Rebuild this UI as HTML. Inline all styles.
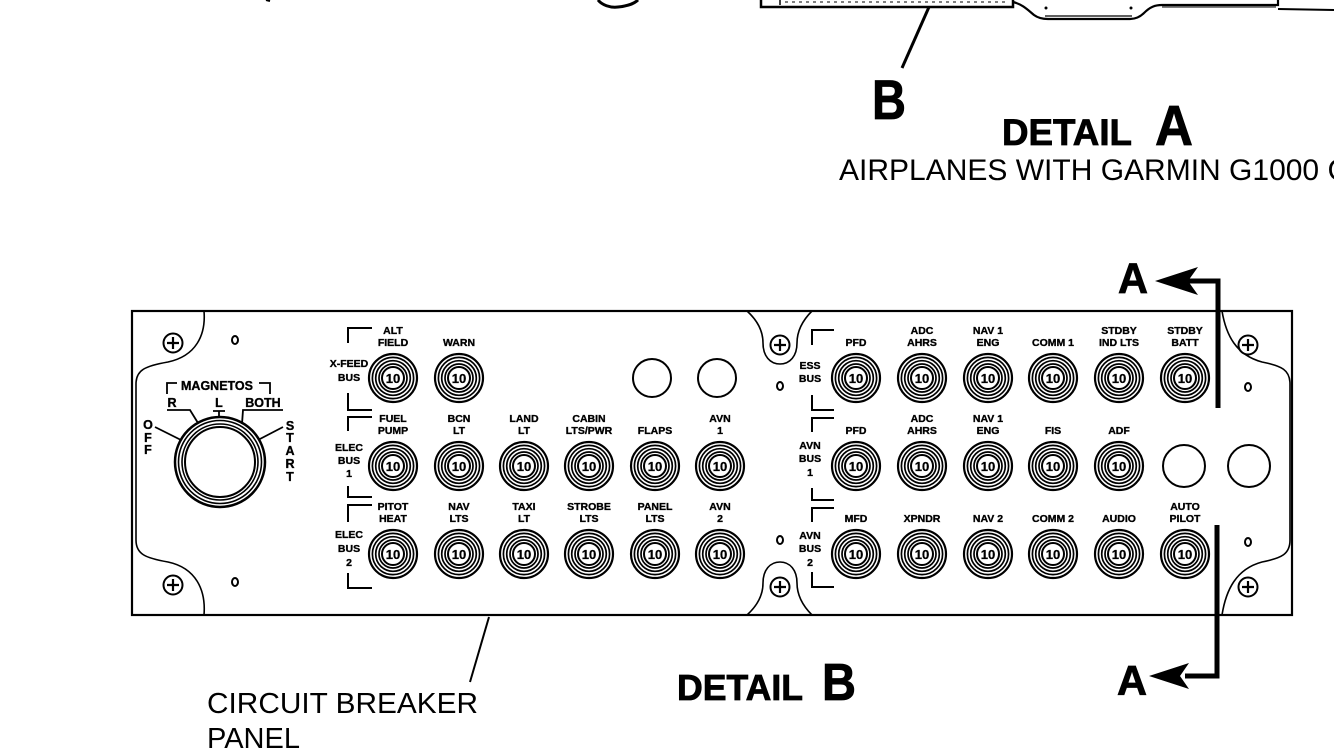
<!DOCTYPE html>
<html>
<head>
<meta charset="utf-8">
<style>
  html, body { margin: 0; padding: 0; background: #fff; }
  svg { display: block; }
  .lb { font-family: "Liberation Sans", Arial, sans-serif; font-weight: bold; font-size: 10.5px; fill: #000; stroke: #000; stroke-width: 0.35px; text-anchor: middle; }
  .ten { font-family: "Liberation Sans", Arial, sans-serif; font-weight: bold; font-size: 13px; fill: #000; stroke: #000; stroke-width: 0.3px; text-anchor: middle; }
  .mg { font-family: "Liberation Sans", Arial, sans-serif; font-weight: bold; font-size: 12.5px; fill: #000; stroke: #000; stroke-width: 0.35px; text-anchor: middle; }
  .big { font-family: "Liberation Sans", Arial, sans-serif; font-weight: bold; fill: #000; stroke: #000; stroke-width: 0.8px; }
  .reg { font-family: "Liberation Sans", Arial, sans-serif; fill: #000; }
</style>
</head>
<body>
<svg width="1334" height="750" viewBox="0 0 1334 750" xmlns="http://www.w3.org/2000/svg">
  <defs>
    <g id="brk" fill="none" stroke="#000">
      <circle r="24" stroke-width="2.2"/>
      <circle r="20.6" stroke-width="1.7"/>
      <circle r="17.3" stroke-width="1.7"/>
      <circle r="14" stroke-width="1.7"/>
      <circle r="11" stroke-width="2"/>
    </g>
    <g id="scr">
      <circle r="9.5" fill="#fff" stroke="#000" stroke-width="2"/>
      <path d="M-6,0H6M0,-6V6" stroke="#000" stroke-width="2.2"/>
    </g>
    <ellipse id="hole" rx="3" ry="4" fill="none" stroke="#000" stroke-width="2"/>
  </defs>
  <rect width="1334" height="750" fill="#fff"/>

  <!-- top fragments of upper drawing -->
  <g fill="none" stroke="#000">
    <path d="M761,0 V7 H1013 V0" stroke-width="2.5"/>
    <path d="M780,0 V5" stroke-width="1.5"/>
    <path d="M785,2 H1005" stroke-width="1" stroke-dasharray="3,4"/>
    <path d="M1013,2 C1022,4 1028,10 1034,15 C1038,18 1042,19 1048,19 L1130,19 C1136,19 1140,17 1144,13 C1150,7 1155,5 1162,5 L1278,5 L1278,0" stroke-width="2.2"/>
    <path d="M1045,16 H1132" stroke-width="1.2"/>
    <path d="M1162,7 H1276" stroke-width="1"/>
    <path d="M1278,9 L1334,10" stroke-width="2"/>
    <path d="M598,0 C602,5 610,8 618,7 C628,6 635,3 638,0" stroke-width="3"/>
    <path d="M266,0 L270,1" stroke-width="2"/>
    <!-- leader to B -->
    <path d="M929,7 L902,68" stroke-width="3"/>
  </g>
  <circle cx="1046" cy="8" r="1.5" fill="#000"/>
  <circle cx="1131" cy="8" r="1.5" fill="#000"/>

  <!-- top titles -->
  <text class="big" x="872" y="119" font-size="56" textLength="34" lengthAdjust="spacingAndGlyphs">B</text>
  <text class="big" x="1002" y="145" font-size="37" textLength="130" lengthAdjust="spacingAndGlyphs">DETAIL</text>
  <text class="big" x="1155" y="145" font-size="57" textLength="38" lengthAdjust="spacingAndGlyphs">A</text>
  <text class="reg" x="839" y="180" font-size="30">AIRPLANES WITH GARMIN G1000 C</text>

  <!-- panel outer -->
  <rect x="132" y="311" width="1160" height="304" fill="none" stroke="#000" stroke-width="2.2"/>
  <!-- plate outline notches -->
  <g fill="none" stroke="#000" stroke-width="1.6">
    <path d="M204,311 C206,335 196,356 168,362 C145,366 136,370 136,384 L136,540 C136,554 145,558 168,562 C196,568 206,590 204,615"/>
    <path d="M1222,311 C1226,335 1236,355 1262,362 C1282,366 1290,370 1290,384 L1290,540 C1290,554 1282,558 1262,562 C1236,569 1226,590 1222,615"/>
    <path d="M747,311 C757,320 763,330 763,343 C763,356 770,364 780,364 C790,364 797,356 797,343 C797,330 803,320 812,311"/>
    <path d="M747,615 C757,606 763,596 763,583 C763,570 770,562 780,562 C790,562 797,570 797,583 C797,596 803,606 812,615"/>
  </g>

  <!-- screws and holes -->
  <use href="#scr" x="173" y="343"/>
  <use href="#scr" x="173" y="585"/>
  <use href="#scr" x="780" y="345"/>
  <use href="#scr" x="780" y="587"/>
  <use href="#scr" x="1248" y="345"/>
  <use href="#scr" x="1248" y="587"/>
  <use href="#hole" x="235" y="340"/>
  <use href="#hole" x="235" y="582"/>
  <use href="#hole" x="780" y="386"/>
  <use href="#hole" x="780" y="540"/>
  <use href="#hole" x="1248" y="387"/>
  <use href="#hole" x="1248" y="542"/>

  <!-- MAGNETOS switch -->
  <g fill="none" stroke="#000">
    <circle cx="220" cy="462" r="45" stroke-width="2.5"/>
    <circle cx="220" cy="462" r="41.5" stroke-width="1.6"/>
    <circle cx="220" cy="462" r="38" stroke-width="1.6"/>
    <circle cx="220" cy="462" r="35" stroke-width="2"/>
    <path d="M167,394 V383 H177" stroke-width="1.8"/>
    <path d="M259,383 H270 V394" stroke-width="1.8"/>
    <path d="M167,410 H190 L198,423" stroke-width="1.8"/>
    <path d="M213,411 H225 M219,411 V418" stroke-width="1.8"/>
    <path d="M283,410 H243 L242,424" stroke-width="1.8"/>
    <path d="M155,427 L181,440" stroke-width="1.8"/>
    <path d="M283,427 L258,440" stroke-width="1.8"/>
  </g>
  <text class="mg" x="217" y="390" font-size="13">MAGNETOS</text>
  <text class="mg" x="172" y="407">R</text>
  <text class="mg" x="219" y="407">L</text>
  <text class="mg" x="263" y="407">BOTH</text>
  <text class="mg" x="148" y="429">O</text>
  <text class="mg" x="148" y="442">F</text>
  <text class="mg" x="148" y="454">F</text>
  <text class="mg" x="290" y="430">S</text>
  <text class="mg" x="290" y="442">T</text>
  <text class="mg" x="290" y="455">A</text>
  <text class="mg" x="290" y="468">R</text>
  <text class="mg" x="290" y="481">T</text>

  <!-- bus brackets -->
  <g fill="none" stroke="#000" stroke-width="2">
    <path d="M372,328 H348 V343"/>
    <path d="M348,393 V410 H372"/>
    <path d="M372,417 H348 V431"/>
    <path d="M348,486 V497 H372"/>
    <path d="M372,505 H348 V522"/>
    <path d="M348,573 V588 H372"/>
    <path d="M834,330 H812 V345"/>
    <path d="M812,395 V410 H834"/>
    <path d="M834,418 H812 V432"/>
    <path d="M812,488 V500 H834"/>
    <path d="M834,508 H812 V522"/>
    <path d="M812,572 V587 H834"/>
  </g>
  <text class="lb" x="349" y="367">X-FEED</text>
  <text class="lb" x="349" y="381">BUS</text>
  <text class="lb" x="349" y="451">ELEC</text>
  <text class="lb" x="349" y="464">BUS</text>
  <text class="lb" x="349" y="477">1</text>
  <text class="lb" x="349" y="538">ELEC</text>
  <text class="lb" x="349" y="552">BUS</text>
  <text class="lb" x="349" y="566">2</text>
  <text class="lb" x="810" y="369">ESS</text>
  <text class="lb" x="810" y="382">BUS</text>
  <text class="lb" x="810" y="449">AVN</text>
  <text class="lb" x="810" y="462">BUS</text>
  <text class="lb" x="810" y="476">1</text>
  <text class="lb" x="810" y="539">AVN</text>
  <text class="lb" x="810" y="552">BUS</text>
  <text class="lb" x="810" y="566">2</text>

  <!-- empty holes -->
  <g fill="none" stroke="#000" stroke-width="2">
    <circle cx="652" cy="378" r="19"/>
    <circle cx="717" cy="378" r="19"/>
    <circle cx="1184" cy="466" r="21"/>
    <circle cx="1249" cy="466" r="21"/>
  </g>

  <!-- LEFT breakers -->
  <use href="#brk" x="393" y="378"/><text class="ten" x="393" y="383">10</text>
  <use href="#brk" x="459" y="378"/><text class="ten" x="459" y="383">10</text>
  <text class="lb" x="393" y="334">ALT</text><text class="lb" x="393" y="346">FIELD</text>
  <text class="lb" x="459" y="346">WARN</text>

  <use href="#brk" x="393" y="466"/><text class="ten" x="393" y="471">10</text>
  <use href="#brk" x="459" y="466"/><text class="ten" x="459" y="471">10</text>
  <use href="#brk" x="524" y="466"/><text class="ten" x="524" y="471">10</text>
  <use href="#brk" x="589" y="466"/><text class="ten" x="589" y="471">10</text>
  <use href="#brk" x="655" y="466"/><text class="ten" x="655" y="471">10</text>
  <use href="#brk" x="720" y="466"/><text class="ten" x="720" y="471">10</text>
  <text class="lb" x="393" y="422">FUEL</text><text class="lb" x="393" y="434">PUMP</text>
  <text class="lb" x="459" y="422">BCN</text><text class="lb" x="459" y="434">LT</text>
  <text class="lb" x="524" y="422">LAND</text><text class="lb" x="524" y="434">LT</text>
  <text class="lb" x="589" y="422">CABIN</text><text class="lb" x="589" y="434">LTS/PWR</text>
  <text class="lb" x="655" y="434">FLAPS</text>
  <text class="lb" x="720" y="422">AVN</text><text class="lb" x="720" y="434">1</text>

  <use href="#brk" x="393" y="554"/><text class="ten" x="393" y="559">10</text>
  <use href="#brk" x="459" y="554"/><text class="ten" x="459" y="559">10</text>
  <use href="#brk" x="524" y="554"/><text class="ten" x="524" y="559">10</text>
  <use href="#brk" x="589" y="554"/><text class="ten" x="589" y="559">10</text>
  <use href="#brk" x="655" y="554"/><text class="ten" x="655" y="559">10</text>
  <use href="#brk" x="720" y="554"/><text class="ten" x="720" y="559">10</text>
  <text class="lb" x="393" y="510">PITOT</text><text class="lb" x="393" y="522">HEAT</text>
  <text class="lb" x="459" y="510">NAV</text><text class="lb" x="459" y="522">LTS</text>
  <text class="lb" x="524" y="510">TAXI</text><text class="lb" x="524" y="522">LT</text>
  <text class="lb" x="589" y="510">STROBE</text><text class="lb" x="589" y="522">LTS</text>
  <text class="lb" x="655" y="510">PANEL</text><text class="lb" x="655" y="522">LTS</text>
  <text class="lb" x="720" y="510">AVN</text><text class="lb" x="720" y="522">2</text>

  <!-- RIGHT breakers -->
  <use href="#brk" x="856" y="378"/><text class="ten" x="856" y="383">10</text>
  <use href="#brk" x="922" y="378"/><text class="ten" x="922" y="383">10</text>
  <use href="#brk" x="988" y="378"/><text class="ten" x="988" y="383">10</text>
  <use href="#brk" x="1053" y="378"/><text class="ten" x="1053" y="383">10</text>
  <use href="#brk" x="1119" y="378"/><text class="ten" x="1119" y="383">10</text>
  <use href="#brk" x="1185" y="378"/><text class="ten" x="1185" y="383">10</text>
  <text class="lb" x="856" y="346">PFD</text>
  <text class="lb" x="922" y="334">ADC</text><text class="lb" x="922" y="346">AHRS</text>
  <text class="lb" x="988" y="334">NAV 1</text><text class="lb" x="988" y="346">ENG</text>
  <text class="lb" x="1053" y="346">COMM 1</text>
  <text class="lb" x="1119" y="334">STDBY</text><text class="lb" x="1119" y="346">IND LTS</text>
  <text class="lb" x="1185" y="334">STDBY</text><text class="lb" x="1185" y="346">BATT</text>

  <use href="#brk" x="856" y="466"/><text class="ten" x="856" y="471">10</text>
  <use href="#brk" x="922" y="466"/><text class="ten" x="922" y="471">10</text>
  <use href="#brk" x="988" y="466"/><text class="ten" x="988" y="471">10</text>
  <use href="#brk" x="1053" y="466"/><text class="ten" x="1053" y="471">10</text>
  <use href="#brk" x="1119" y="466"/><text class="ten" x="1119" y="471">10</text>
  <text class="lb" x="856" y="434">PFD</text>
  <text class="lb" x="922" y="422">ADC</text><text class="lb" x="922" y="434">AHRS</text>
  <text class="lb" x="988" y="422">NAV 1</text><text class="lb" x="988" y="434">ENG</text>
  <text class="lb" x="1053" y="434">FIS</text>
  <text class="lb" x="1119" y="434">ADF</text>

  <use href="#brk" x="856" y="554"/><text class="ten" x="856" y="559">10</text>
  <use href="#brk" x="922" y="554"/><text class="ten" x="922" y="559">10</text>
  <use href="#brk" x="988" y="554"/><text class="ten" x="988" y="559">10</text>
  <use href="#brk" x="1053" y="554"/><text class="ten" x="1053" y="559">10</text>
  <use href="#brk" x="1119" y="554"/><text class="ten" x="1119" y="559">10</text>
  <use href="#brk" x="1185" y="554"/><text class="ten" x="1185" y="559">10</text>
  <text class="lb" x="856" y="522">MFD</text>
  <text class="lb" x="922" y="522">XPNDR</text>
  <text class="lb" x="988" y="522">NAV 2</text>
  <text class="lb" x="1053" y="522">COMM 2</text>
  <text class="lb" x="1119" y="522">AUDIO</text>
  <text class="lb" x="1185" y="510">AUTO</text><text class="lb" x="1185" y="522">PILOT</text>

  <!-- section A-A arrows -->
  <g fill="none" stroke="#000" stroke-width="5">
    <path d="M1186,281 H1218 V408"/>
    <path d="M1217,525 V676 H1185"/>
  </g>
  <polygon points="1155,281 1198,267 1188,281 1198,295" fill="#000"/>
  <polygon points="1149,676 1189,663 1180,676 1189,689" fill="#000"/>
  <text class="big" x="1118" y="293" font-size="43" textLength="30" lengthAdjust="spacingAndGlyphs">A</text>
  <text class="big" x="1117" y="695" font-size="42" textLength="30" lengthAdjust="spacingAndGlyphs">A</text>

  <!-- bottom labels -->
  <path d="M489,617 L470,682" stroke="#000" stroke-width="2" fill="none"/>
  <text class="reg" x="207" y="713" font-size="29" textLength="271" lengthAdjust="spacingAndGlyphs">CIRCUIT BREAKER</text>
  <text class="reg" x="207" y="748" font-size="29">PANEL</text>
  <text class="big" x="677" y="700" font-size="36" textLength="126" lengthAdjust="spacingAndGlyphs">DETAIL</text>
  <text class="big" x="822" y="700" font-size="52" textLength="34" lengthAdjust="spacingAndGlyphs">B</text>
</svg>
</body>
</html>
